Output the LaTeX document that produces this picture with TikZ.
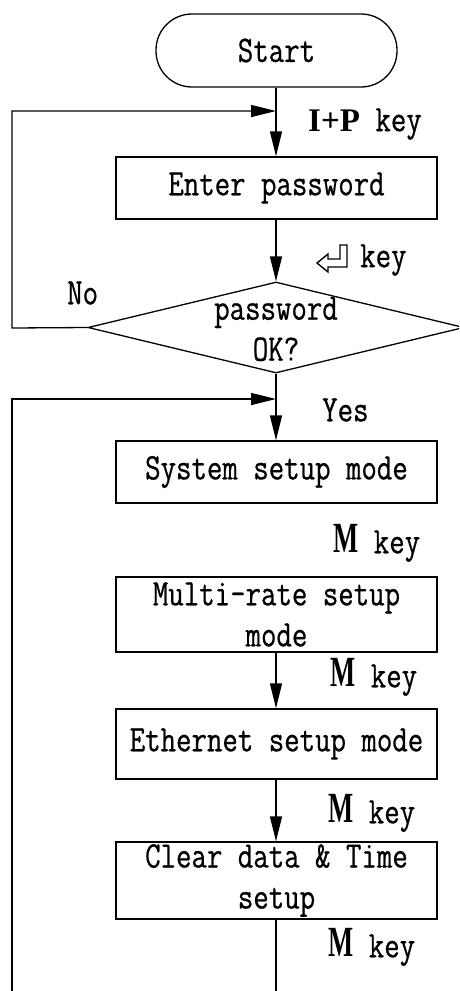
\documentclass[tikz,border=0pt]{standalone}
\usepackage{fontspec}
\newfontfamily\keyfont{Liberation Serif}
\newfontfamily\monofont{Latin Modern Mono}[FakeStretch=0.8,FakeBold=0.6]
\usetikzlibrary{arrows.meta,shapes.geometric}
\begin{document}
\begin{tikzpicture}[x=1pt,y=-1pt,
  txt/.style={font=\fontsize{37.5}{41}\selectfont\monofont},
  box/.style={draw, line width=1.3pt, minimum width=321pt, inner sep=0pt, align=center, txt},
  lbl/.style={inner sep=0pt, anchor=west, txt},
  arr/.style={-{Triangle[length=25pt,width=12pt]}, line width=1.3pt},
  ln/.style={line width=1.3pt}]
\clip (0,0) rectangle (459,991);
\fill[white] (0,0) rectangle (459,991);

% nodes
\node[box, minimum width=241pt, minimum height=73pt, rounded corners=36pt] (start) at (276.5,50.5) {Start};
\node[box, minimum height=62pt] (enter) at (276.5,188) {Enter password};
\node[draw, diamond, line width=1.3pt, minimum width=376pt, minimum height=91pt, inner sep=0pt] (dec) at (276,327.5) {};
\node[txt, align=center, inner sep=0pt] (dectext) at (276,329) {password\\OK?};
\node[box, minimum height=62pt] (sys) at (276.5,472) {System setup mode};
\node[box, minimum height=75pt] (multi) at (276.5,614.5) {Multi-rate setup\\mode};
\node[box, minimum height=70pt] (eth) at (276.5,744) {Ethernet setup mode};
\node[box, minimum height=77pt] (clr) at (276.5,880.5) {Clear data \& Time\\setup};

% labels
\node[lbl] (ipkey) at (308,124) {{\keyfont\bfseries\fontsize{33}{33}\selectfont I+P} key};
\node[lbl] (retkey) at (360,260) {key};
\draw[line width=1.4pt, line join=miter]
  (317,263) -- (328,254) -- (328,259) -- (340,259) -- (340,245) -- (347,245)
  -- (347,267) -- (328,267) -- (328,272) -- cycle;
\node[lbl] (no) at (67,293) {No};
\node[lbl] (yes) at (322,410) {Yes};
\node[lbl] (m1) at (333,543) {\raisebox{1pt}{\scalebox{0.62}[1]{\keyfont\bfseries\fontsize{43}{43}\selectfont M}} key};
\node[lbl] (m2) at (330,677) {\raisebox{1pt}{\scalebox{0.62}[1]{\keyfont\bfseries\fontsize{43}{43}\selectfont M}} key};
\node[lbl] (m3) at (328,813) {\raisebox{1pt}{\scalebox{0.62}[1]{\keyfont\bfseries\fontsize{43}{43}\selectfont M}} key};
\node[lbl] (m4) at (328,947) {\raisebox{1pt}{\scalebox{0.62}[1]{\keyfont\bfseries\fontsize{43}{43}\selectfont M}} key};

% coordinates
\coordinate (j1) at (276,111);
\coordinate (l1) at (12,328);
\coordinate (j2) at (276,399);
\coordinate (l2) at (12,991);
\coordinate (b1) at (276,991);

% connectors
\draw[arr] (start.south -| j1) -- (enter.north -| j1);
\draw[arr] (enter.south -| j1) -- (dec.north);
\draw[arr] (dec.west) -- (l1) |- (j1);
\draw[arr] (dec.south) -- (sys.north -| j1);
\draw[arr] (l2) |- (j2);
\draw[arr] (multi.south -| j1) -- (eth.north -| j1);
\draw[arr] (eth.south -| j1) -- (clr.north -| j1);
\draw[ln] (clr.south -| j1) -- (b1);
\end{tikzpicture}
\end{document}
